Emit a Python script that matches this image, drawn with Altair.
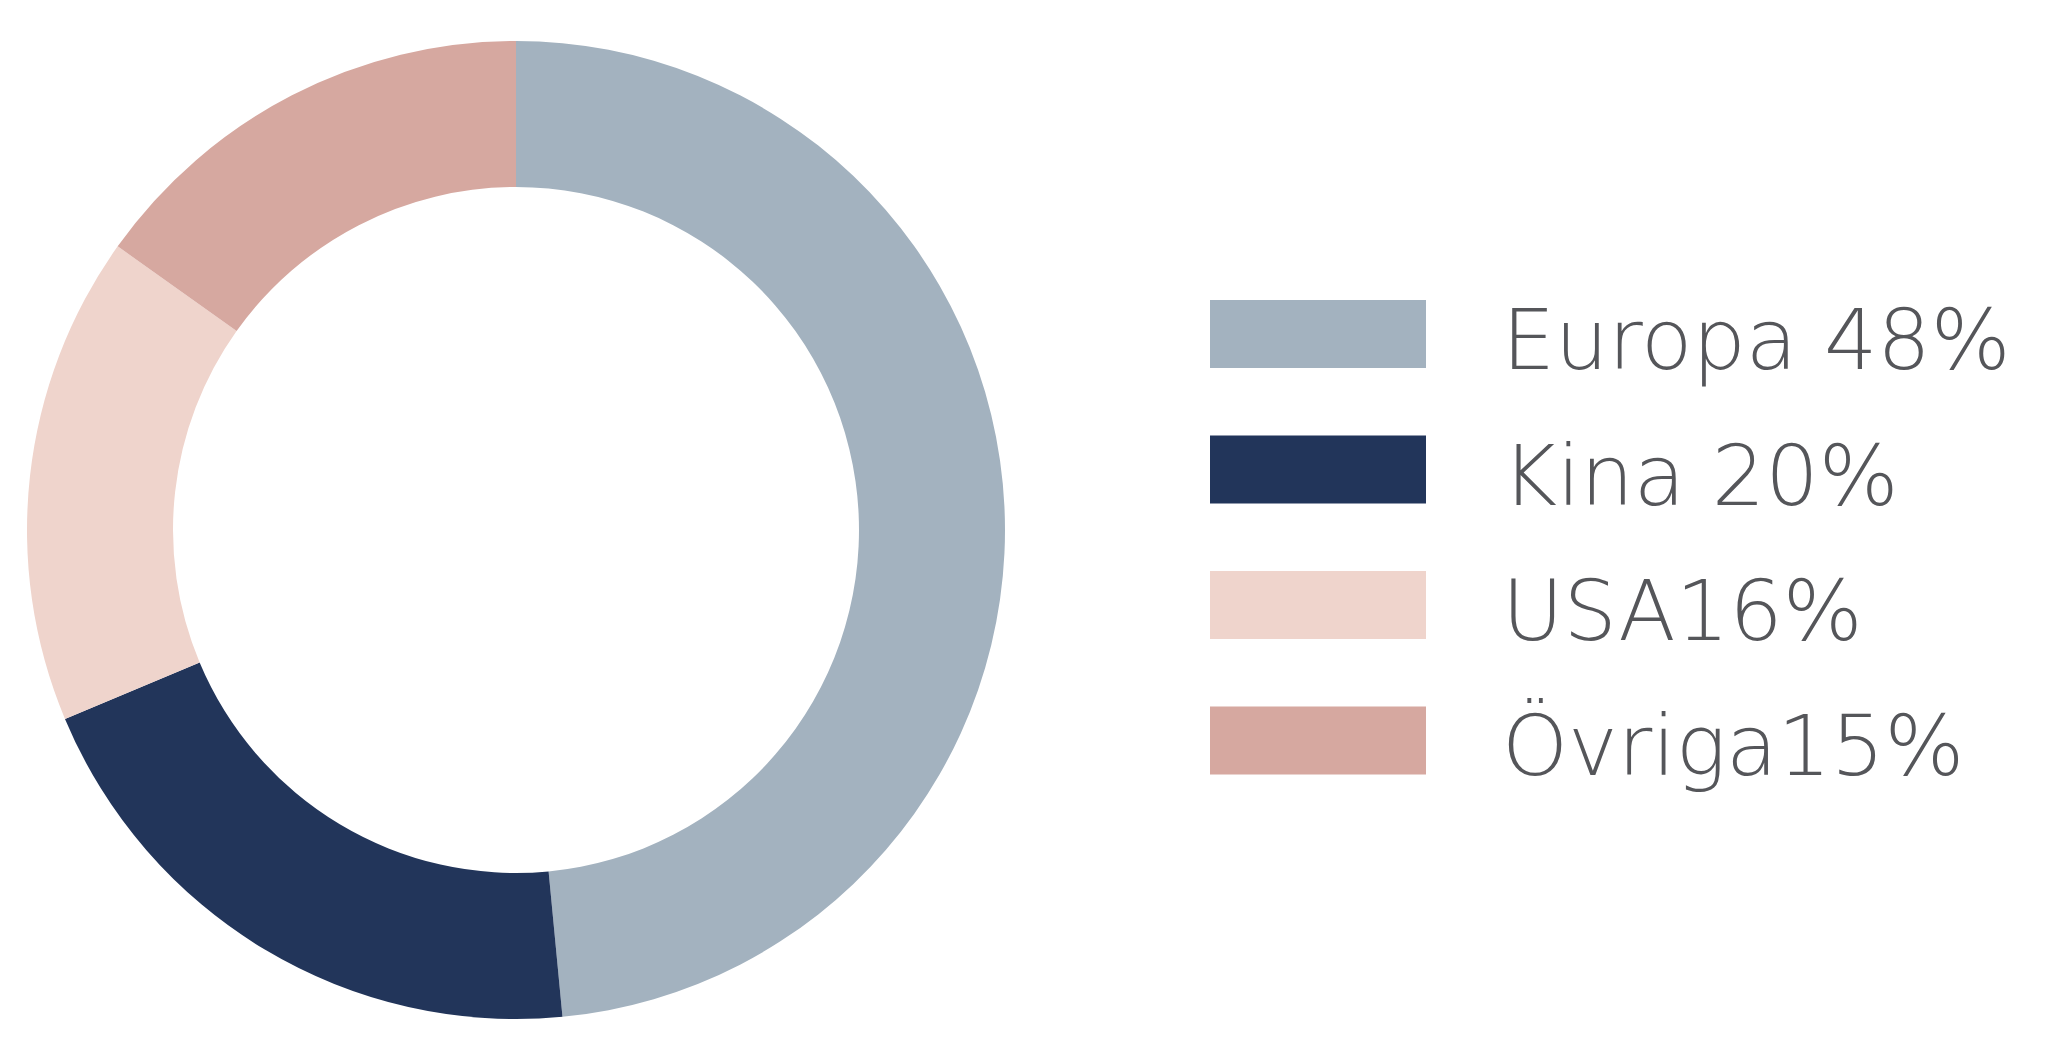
import altair as alt
import pandas as pd

categories = ["Europa", "Kina", "USA", "Övriga"]
values = [48, 20, 16, 15]
labels = ["Europa 48%", "Kina 20%", "USA16%", "Övriga15%"]
colors = ["#A3B2BF", "#22355A", "#EFD4CC", "#D6A8A0"]

df = pd.DataFrame({
    "category": categories,
    "value": values,
    "label": labels,
    "color": colors,
    "order": list(range(len(categories))),
})

base = alt.Chart(df)

donut = base.mark_arc(innerRadius=343, outerRadius=489).encode(
    theta=alt.Theta("value:Q", stack=True),
    order=alt.Order("order:Q", sort="ascending"),
    color=alt.Color("color:N", scale=None),
    x=alt.value(508),
    y=alt.value(522),
)

yenc = alt.Y(
    "category:N",
    sort=categories,
    scale=alt.Scale(range=[292, 766.5], paddingInner=0.498, paddingOuter=0),
    axis=None,
)

swatches = base.mark_rect().encode(
    x=alt.value(1202),
    x2=alt.value(1418),
    y=yenc,
    color=alt.Color("color:N", scale=None),
)

texts = base.mark_text(
    align="left", baseline="middle", font="DejaVu Sans", fontWeight=200,
    fontSize=84, color="#55565A", dy=10,
).encode(
    x=alt.value(1494),
    y=yenc,
    text="label:N",
)

chart = alt.layer(donut, swatches, texts).properties(
    width=2030, height=1045, padding=0, autosize="none"
).configure_view(stroke=None)

chart.save("out.html", embed_options={"renderer": "svg", "actions": False})
